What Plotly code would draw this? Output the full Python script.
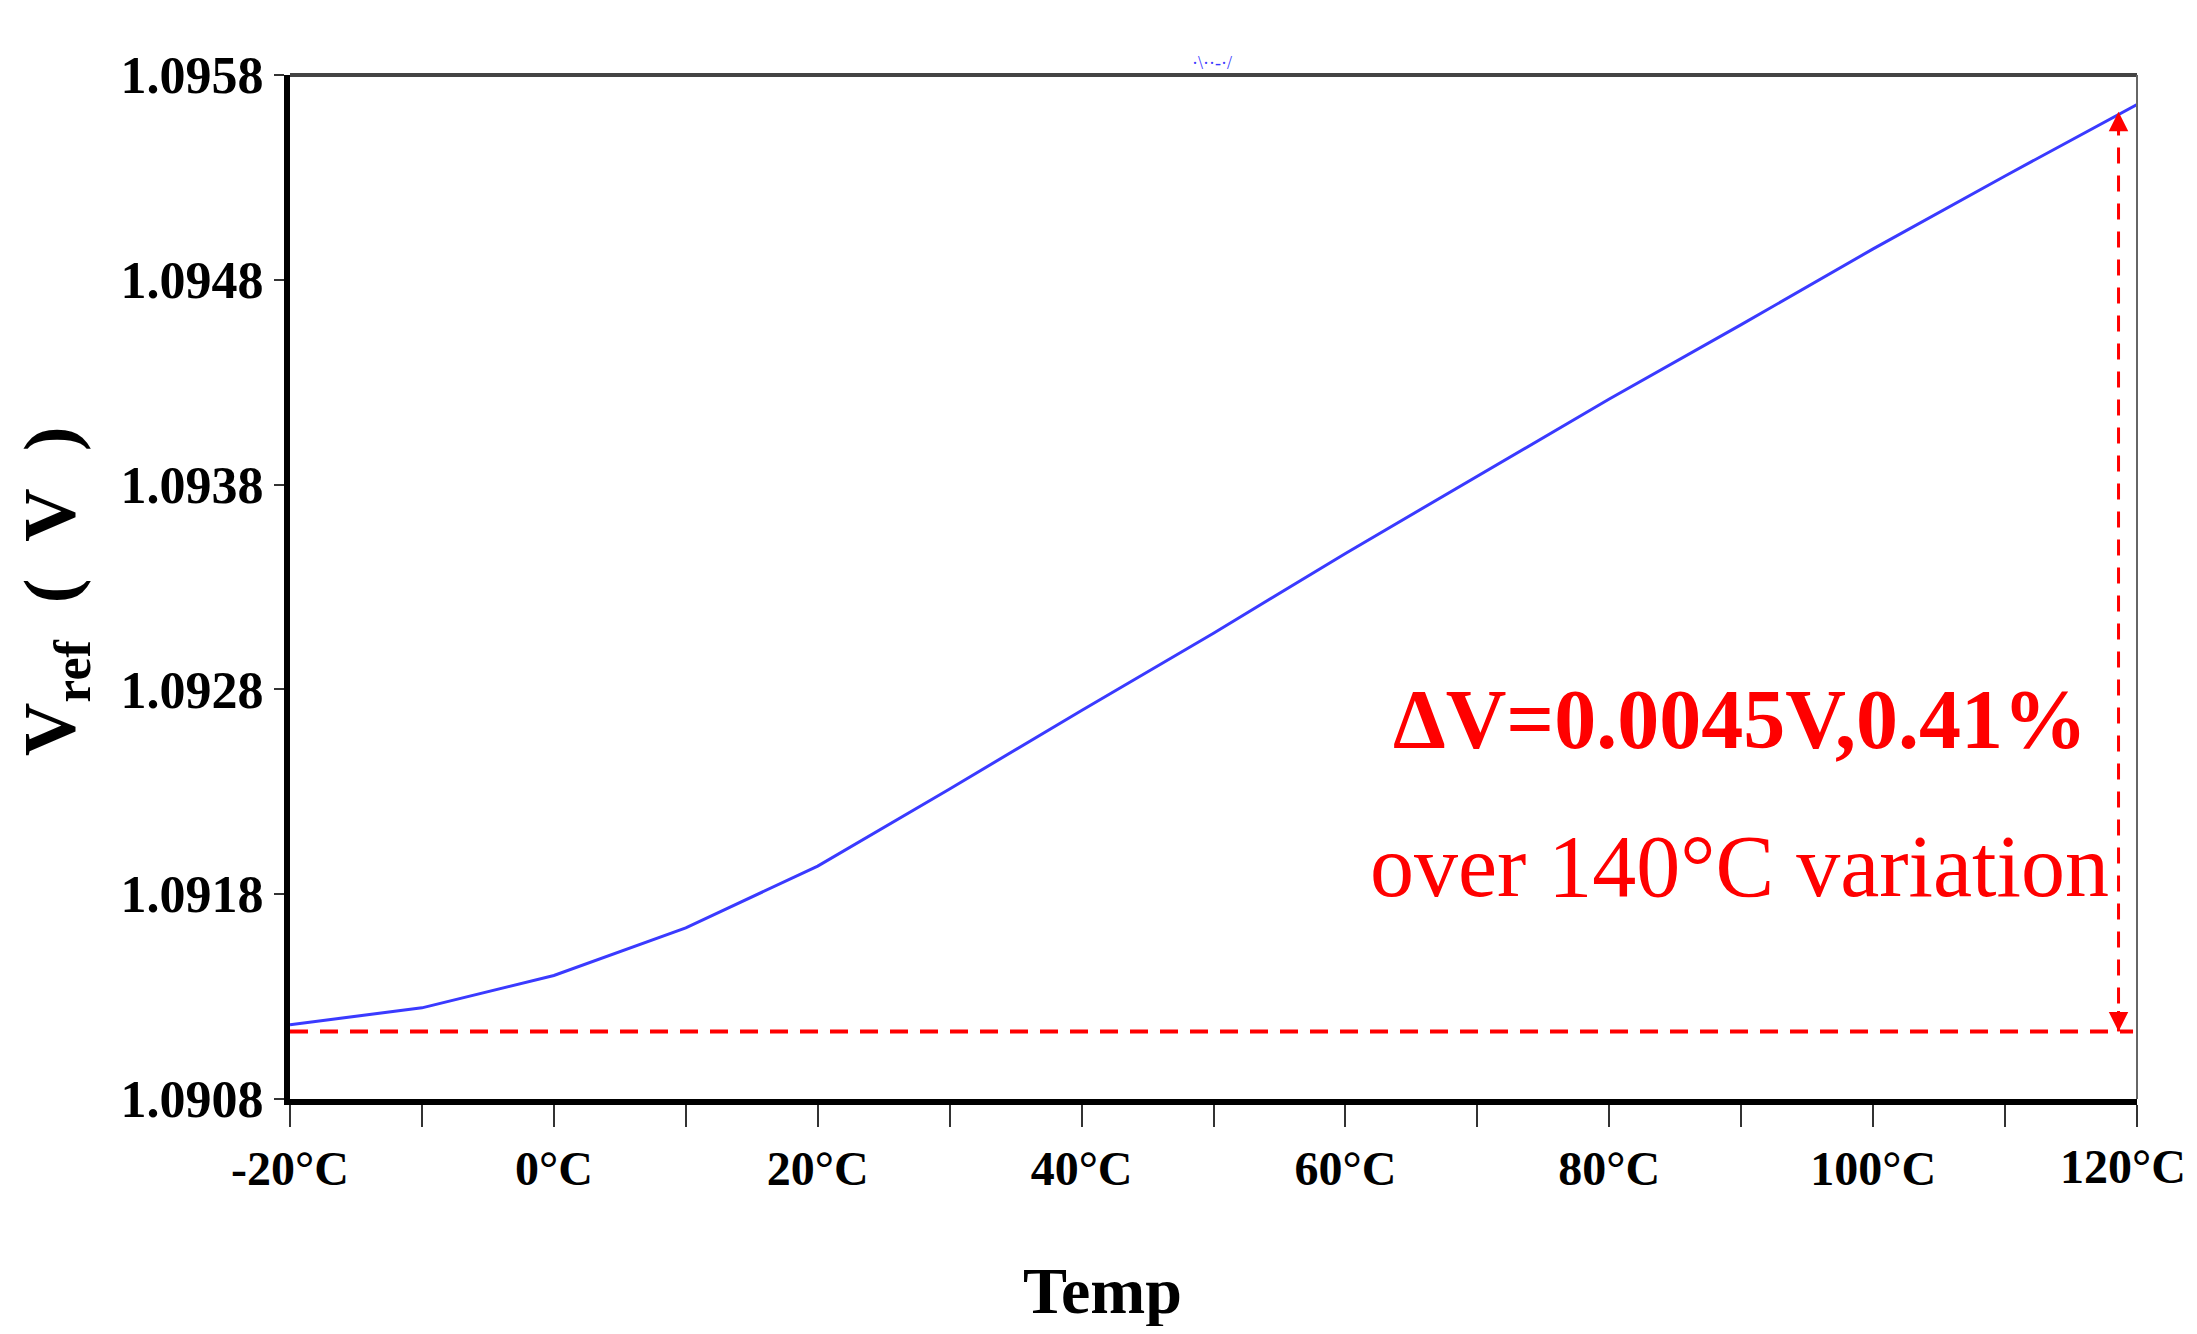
import plotly.graph_objects as go

# ---- data ----
temps = [-20, -10, 0, 10, 20, 30, 40, 50, 60, 70, 80, 90, 100, 110, 120]
vref = [1.091163, 1.091245, 1.091403, 1.091636, 1.091937, 1.092314, 1.092697,
        1.093074, 1.093464, 1.093841, 1.094218, 1.094581, 1.094951, 1.095307, 1.095656]

x_tickvals = [-20, -10, 0, 10, 20, 30, 40, 50, 60, 70, 80, 90, 100, 110, 120]
x_ticktext = ["-20°C", "", "0°C", "", "20°C", "", "40°C", "", "60°C", "", "80°C", "", "100°C", "", ""]
x_last_label = "120°C"   # drawn separately so it stays inside the page edge
y_tickvals = [1.0908, 1.0918, 1.0928, 1.0938, 1.0948, 1.0958]
y_ticktext = ["1.0908", "1.0918", "1.0928", "1.0938", "1.0948", "1.0958"]

ref_low = 1.09113      # dashed red baseline level
ref_high = 1.09562     # top of the measurement arrow
arrow_x = 118.6
line_end_x = 119.7

annot_line1 = "<b>ΔV=0.0045V,0.41%</b>"
annot_line2 = "over 140°C variation"

SERIF = "Liberation Serif, Times New Roman, serif"

# page body adds an 8px margin on every side; keep the figure inside the window
OFF = 8
W, H = 2197 - 2 * OFF, 1334 - 2 * OFF
L, T = 290 - OFF, 75 - OFF
R = OFF + W - 2137
B = OFF + H - 1099
PW, PH = 2137 - 290, 1099 - 75

fig = go.Figure()

fig.add_trace(go.Scatter(
    x=temps, y=vref, mode="lines",
    line=dict(color="#3a3aff", width=3),
    showlegend=False, hoverinfo="skip"))

# dashed horizontal reference line
fig.add_trace(go.Scatter(
    x=[temps[0], line_end_x], y=[ref_low, ref_low], mode="lines",
    line=dict(color="#ff0000", width=4, dash="18px,12px"),
    showlegend=False, hoverinfo="skip"))

# dashed vertical measurement line
fig.add_trace(go.Scatter(
    x=[arrow_x, arrow_x], y=[ref_low, ref_high], mode="lines",
    line=dict(color="#ff0000", width=3, dash="16px,12px"),
    showlegend=False, hoverinfo="skip"))

# arrow heads
fig.add_annotation(x=arrow_x, y=ref_high, ax=0, ay=22, xref="x", yref="y",
                   text="", showarrow=True, arrowhead=2, arrowsize=1.3,
                   arrowwidth=3, arrowcolor="#ff0000")
fig.add_annotation(x=arrow_x, y=ref_low, ax=0, ay=-22, xref="x", yref="y",
                   text="", showarrow=True, arrowhead=2, arrowsize=1.3,
                   arrowwidth=3, arrowcolor="#ff0000")

# text annotations
fig.add_annotation(x=89.9, y=1.092655, xref="x", yref="y", text=annot_line1,
                   showarrow=False, xanchor="center", yanchor="middle",
                   font=dict(family=SERIF, size=84, color="#ff0000"))
fig.add_annotation(x=89.9, y=1.091933, xref="x", yref="y", text=annot_line2,
                   showarrow=False, xanchor="center", yanchor="middle",
                   font=dict(family=SERIF, size=88, color="#ff0000"))

# last x tick label, right-aligned at the page edge as in the reference
fig.add_annotation(x=(2188 - 290) / PW, y=(1099 - 1166) / PH, xref="paper", yref="paper",
                   text="<b>" + x_last_label + "</b>", showarrow=False,
                   xanchor="right", yanchor="middle",
                   font=dict(family=SERIF, size=48, color="black"))

# axis titles
fig.add_annotation(x=(1102 - 290) / PW, y=-0.187, xref="paper", yref="paper",
                   text="<b>Temp</b>", showarrow=False, xanchor="center", yanchor="middle",
                   font=dict(family=SERIF, size=66, color="black"))
fig.add_annotation(x=(55 - 290) / PW, y=0.496, xref="paper", yref="paper",
                   text="<b>V<sub>ref</sub>\u00a0\u00a0(\u00a0\u00a0V\u00a0\u00a0)</b>",
                   textangle=-90, showarrow=False, xanchor="center", yanchor="middle",
                   font=dict(family=SERIF, size=74, color="black"))

# small legend fragment above the plot
fig.add_annotation(x=49.9, y=1.0117, xref="x", yref="paper", text="·\\··-·/",
                   showarrow=False, xanchor="center", yanchor="middle",
                   font=dict(family=SERIF, size=18, color="#3a3aff"))

# top and right frame lines (thin grey)
fig.add_shape(type="line", xref="paper", yref="paper", x0=0, x1=1, y0=1, y1=1,
              line=dict(color="#444444", width=4))
fig.add_shape(type="line", xref="paper", yref="paper", x0=1, x1=1, y0=0, y1=1,
              line=dict(color="#666666", width=2))

fig.update_layout(
    width=W, height=H,
    margin=dict(l=L, r=R, t=T, b=B, autoexpand=False),
    plot_bgcolor="white", paper_bgcolor="white",
    showlegend=False,
    xaxis=dict(
        range=[-20, 120], tickmode="array", tickvals=x_tickvals, ticktext=x_ticktext,
        showgrid=False, zeroline=False, automargin=False,
        showline=True, linecolor="black", linewidth=6,
        ticks="outside", ticklen=22, tickwidth=2, tickcolor="#333333",
        tickfont=dict(family=SERIF, size=48, color="black", weight="bold"),
    ),
    yaxis=dict(
        range=[1.0908, 1.0958], tickmode="array", tickvals=y_tickvals, ticktext=y_ticktext,
        showgrid=False, zeroline=False, automargin=False,
        showline=True, linecolor="black", linewidth=6,
        ticks="outside", ticklen=10, tickwidth=2, tickcolor="#333333",
        tickfont=dict(family=SERIF, size=52, color="black", weight="bold"),
    ),
)

fig.write_html("out.html")
